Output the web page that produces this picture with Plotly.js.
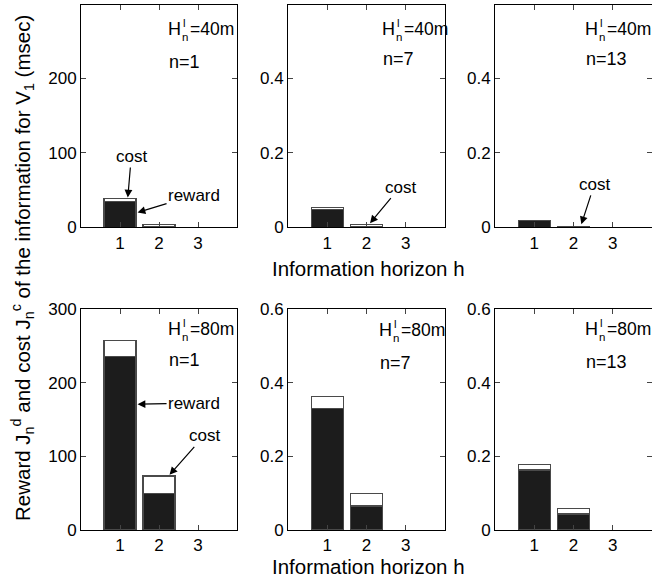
<!DOCTYPE html>
<html>
<head>
<meta charset="utf-8">
<script src="https://cdn.plot.ly/plotly-3.0.1.min.js"></script>
<style>html,body{margin:0;padding:0;background:#fff;}#chart{width:652px;height:584px;}</style>
</head>
<body>
<div id="chart"></div>
<script>
// ---- data ----
const horizons = [1, 2, 3];
const tickLabels = ["1", "2", "3"];
// H = 40 m
const reward40n1 = [35, 0.8, 0];
const cost40n1 = [3.5, 2.8, 0];
const reward40n7 = [0.0475, 0.002, 0];
const cost40n7 = [0.0055, 0.005, 0];
const reward40n13 = [0.018, 0.002, 0];
const cost40n13 = [0.001, 0.001, 0];
// H = 80 m
const reward80n1 = [236, 50, 0];
const cost80n1 = [22, 23.5, 0];
const reward80n7 = [0.331, 0.065, 0];
const cost80n7 = [0.031, 0.035, 0];
const reward80n13 = [0.163, 0.0435, 0];
const cost80n13 = [0.014, 0.0145, 0];

const panelH = ["40m", "40m", "40m", "80m", "80m", "80m"];
const panelN = ["1", "7", "13", "1", "7", "13"];
const rewards = [reward40n1, reward40n7, reward40n13, reward80n1, reward80n7, reward80n13];
const costs = [cost40n1, cost40n7, cost40n13, cost80n1, cost80n7, cost80n13];

const yTickVals = [[0, 100, 200], [0, 0.2, 0.4], [0, 0.2, 0.4], [0, 100, 200, 300], [0, 0.2, 0.4, 0.6], [0, 0.2, 0.4, 0.6]];
const yTickText = [["0", "100", "200"], ["0", "0.2", "0.4"], ["0", "0.2", "0.4"], ["0", "100", "200", "300"], ["0", "0.2", "0.4", "0.6"], ["0", "0.2", "0.4", "0.6"]];
const yRanges = [[0, 299], [0, 0.598], [0, 0.598], [0, 300], [0, 0.6], [0, 0.6]];

// ---- layout geometry (pixels) ----
const W = 652, H = 584;
const px = x => x / W;
const py = y => 1 - y / H;
const colX = [[81, 237], [288, 445], [495, 652]];
const rowY = [[4.7, 227.3], [309.3, 530]];

const FONT = "Liberation Sans, Arial, Helvetica, sans-serif";
const edgeWidths = v => v.map(d => (d > 0 ? 1.2 : 0));

const traces = [];
const layout = {
  width: W, height: H,
  margin: { l: 0, r: 0, t: 0, b: 0, pad: 0 },
  paper_bgcolor: "#fff", plot_bgcolor: "#fff",
  barmode: "stack",
  showlegend: false,
  font: { family: FONT, size: 17, color: "#000" },
  annotations: []
};

for (let i = 0; i < 6; i++) {
  const s = i === 0 ? "" : String(i + 1);
  const xa = "x" + s, ya = "y" + s;
  traces.push({
    type: "bar", x: horizons, y: rewards[i], xaxis: xa, yaxis: ya, width: 0.82,
    marker: { color: "#1c1c1c", line: { color: "#4a4a4a", width: edgeWidths(rewards[i]) } }, name: "reward", hoverinfo: "skip"
  });
  traces.push({
    type: "bar", x: horizons, y: costs[i], xaxis: xa, yaxis: ya, width: 0.82,
    marker: { color: "#ffffff", line: { color: "#4a4a4a", width: edgeWidths(costs[i]) } }, name: "cost", hoverinfo: "skip"
  });
  const c = colX[i % 3], r = rowY[Math.floor(i / 3)];
  layout["xaxis" + s] = {
    domain: [px(c[0]), px(c[1])], anchor: ya, range: [0, 4],
    tickvals: horizons, ticktext: tickLabels, ticks: "inside", ticklen: 5,
    showline: true, mirror: "ticks", linecolor: "#000", linewidth: 1,
    showgrid: false, zeroline: false, tickfont: { size: 17, family: FONT }, fixedrange: true
  };
  layout["yaxis" + s] = {
    domain: [py(r[1]), py(r[0])], anchor: xa, range: yRanges[i],
    tickvals: yTickVals[i], ticktext: yTickText[i], ticks: "inside", ticklen: 5,
    showline: true, mirror: "ticks", linecolor: "#000", linewidth: 1,
    showgrid: false, zeroline: false, tickfont: { size: 17, family: FONT }, fixedrange: true
  };

  // H_n^l = ..m  and n = .. labels (sub/superscript stacked)
  const hLeft = [168, 382, 585, 168, 379, 585][i];
  const hY = [29, 29, 29, 329, 330, 329][i];
  const nY = [62.5, 59, 59, 360, 363, 362][i];
  const base = { xref: "paper", yref: "paper", showarrow: false, xanchor: "left", yanchor: "middle", borderpad: 0, font: { size: 18, family: FONT, color: "#000" } };
  layout.annotations.push(Object.assign({}, base, { x: px(hLeft - 1), y: py(hY), text: "H" }));
  layout.annotations.push(Object.assign({}, base, { x: px(hLeft + 13.5), y: py(hY - 6), text: "l", font: { size: 11.5, family: FONT, color: "#000" } }));
  layout.annotations.push(Object.assign({}, base, { x: px(hLeft + 12.5), y: py(hY + 8), text: "n", font: { size: 11.5, family: FONT, color: "#000" } }));
  layout.annotations.push(Object.assign({}, base, { x: px(hLeft + 21), y: py(hY), text: "=" + panelH[i], font: { size: 17.5, family: FONT, color: "#000" } }));
  layout.annotations.push(Object.assign({}, base, { x: px(hLeft), y: py(nY), text: "n=" + panelN[i] }));
}

// labelled arrows: (x, y) is the arrow tip, (ax, ay) the offset of the text centre in px
function pointer(xa, ya, x, y, ax, ay, text) {
  layout.annotations.push({
    xref: xa, yref: ya, x: x, y: y, ax: ax, ay: ay, text: text, showarrow: true,
    arrowhead: 2, arrowsize: 1.3, arrowwidth: 1.2, arrowcolor: "#000", standoff: 0,
    font: { size: 17, family: FONT, color: "#000" }
  });
}
pointer("x", "y", 1.2, 40, 3.5, -41, "cost");
pointer("x", "y", 1.45, 20, 56.5, -17, "reward");
pointer("x2", "y2", 2.09, 0.011, 30, -36, "cost");
pointer("x3", "y3", 2.2, 0.008, 13, -40, "cost");
pointer("x4", "y4", 1.45, 171, 56.5, -1, "reward");
pointer("x4", "y4", 2.27, 75, 34.5, -39, "cost");

// axis titles
layout.annotations.push({ xref: "paper", yref: "paper", x: px(369), y: py(268), text: "Information horizon h", showarrow: false, xanchor: "center", yanchor: "middle", font: { size: 20.5, family: FONT, color: "#000" } });
layout.annotations.push({ xref: "paper", yref: "paper", x: px(369), y: py(566), text: "Information horizon h", showarrow: false, xanchor: "center", yanchor: "middle", font: { size: 20.5, family: FONT, color: "#000" } });
layout.annotations.push({ xref: "paper", yref: "paper", x: px(22), y: py(268), textangle: -90, text: "Reward J<sub>n</sub><sup>d</sup> and cost J<sub>n</sub><sup>c</sup> of the information for V<sub>1</sub> (msec)", showarrow: false, xanchor: "center", yanchor: "middle", font: { size: 20.5, family: FONT, color: "#000" } });

Plotly.newPlot("chart", traces, layout, { staticPlot: true, displayModeBar: false });
</script>
</body>
</html>
